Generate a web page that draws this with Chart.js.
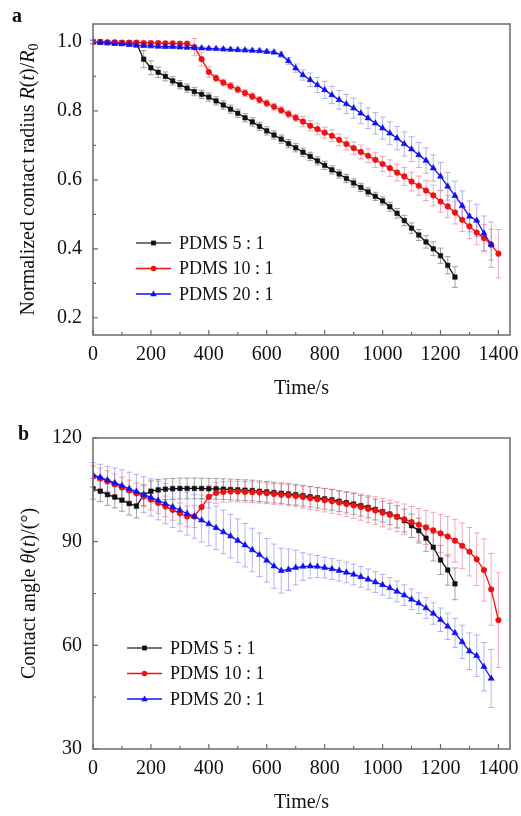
<!DOCTYPE html>
<html>
<head>
<meta charset="utf-8">
<script src="https://cdn.jsdelivr.net/npm/chart.js@4.4.1/dist/chart.umd.min.js"></script>
<style>
body { margin: 0; background: #fff; }
canvas { display: block; }
</style>
</head>
<body>
<canvas id="chartA" width="521" height="408"></canvas>
<canvas id="chartB" width="521" height="408"></canvas>
<script>
// time axis, one reading every 25 s
var times = [0, 25, 50, 75, 100, 125, 150, 175, 200, 225, 250, 275, 300, 325, 350, 375, 400,
	425, 450, 475, 500, 525, 550, 575, 600, 625, 650, 675, 700, 725, 750, 775, 800,
	825, 850, 875, 900, 925, 950, 975, 1000, 1025, 1050, 1075, 1100, 1125, 1150, 1175, 1200,
	1225, 1250, 1275, 1300, 1325, 1350, 1375, 1400];

var labels = ["PDMS 5 : 1", "PDMS 10 : 1", "PDMS 20 : 1"];

var xTicks = [0, 200, 400, 600, 800, 1000, 1200, 1400];
var xMinor = [100, 300, 500, 700, 900, 1100, 1300];
var yTicksA = [0.2, 0.4, 0.6, 0.8, 1.0];
var yMinorA = [0.3, 0.5, 0.7, 0.9];
var yTicksB = [30, 60, 90, 120];
var yMinorB = [45, 75, 105];

// (a) normalized contact radius
var radius5 = [1.0, 1.0, 0.998, 0.998, 0.997, 0.997, 0.996,
	0.95, 0.925, 0.912, 0.90, 0.887, 0.876, 0.866, 0.856, 0.848, 0.84,
	0.829, 0.817, 0.805, 0.793, 0.78, 0.768, 0.755, 0.742,
	0.73, 0.718, 0.705, 0.693, 0.68, 0.668, 0.655, 0.642,
	0.629, 0.617, 0.604, 0.591, 0.578, 0.565, 0.552, 0.539,
	0.522, 0.503, 0.482, 0.46, 0.44, 0.42, 0.40, 0.38, 0.352, 0.318];
var radius5Err = [0.005, 0.005, 0.005, 0.005, 0.005, 0.005, 0.006,
	0.025, 0.02, 0.015, 0.013, 0.012, 0.012, 0.012, 0.012, 0.012, 0.012,
	0.012, 0.012, 0.012, 0.012, 0.012, 0.012, 0.012, 0.012,
	0.012, 0.012, 0.012, 0.012, 0.012, 0.012, 0.012, 0.012,
	0.012, 0.012, 0.012, 0.012, 0.012, 0.012, 0.012, 0.012,
	0.013, 0.014, 0.015, 0.015, 0.016, 0.018, 0.02, 0.022, 0.025, 0.03];

var radius10 = [1.0, 1.0, 0.999, 0.999, 0.998, 0.998, 0.998, 0.997, 0.997, 0.997, 0.996, 0.996, 0.995, 0.995,
	0.985, 0.95, 0.913,
	0.895, 0.882, 0.872, 0.862, 0.852, 0.842, 0.832, 0.822, 0.812, 0.802, 0.791, 0.78,
	0.769, 0.757, 0.747, 0.737, 0.728, 0.716, 0.704, 0.692, 0.681, 0.670, 0.658, 0.646,
	0.634, 0.621, 0.610, 0.595, 0.583, 0.569, 0.555, 0.537, 0.523, 0.505, 0.484, 0.465, 0.447, 0.431, 0.412, 0.386];
var radius10Err = [0.005, 0.005, 0.005, 0.005, 0.005, 0.005, 0.005, 0.005, 0.005, 0.005, 0.005, 0.005, 0.005, 0.005,
	0.025, 0.02, 0.015,
	0.01, 0.01, 0.01, 0.01, 0.01, 0.01, 0.01, 0.01, 0.01, 0.01, 0.01, 0.01,
	0.015, 0.015, 0.016, 0.016, 0.017, 0.017, 0.018, 0.018, 0.02, 0.02, 0.022, 0.022,
	0.024, 0.024, 0.026, 0.027, 0.028, 0.029, 0.03, 0.031, 0.032, 0.033, 0.034, 0.035, 0.035, 0.04, 0.045, 0.07];

var radius20 = [1.0, 0.998, 0.997, 0.995, 0.994, 0.992, 0.99, 0.989, 0.988, 0.987, 0.986, 0.986, 0.985,
	0.984, 0.983, 0.982, 0.981, 0.98, 0.979, 0.978, 0.977, 0.976, 0.975, 0.974, 0.972, 0.97,
	0.963, 0.945, 0.924,
	0.904, 0.890, 0.875, 0.861, 0.846, 0.832, 0.820, 0.808, 0.793, 0.779, 0.764, 0.750, 0.735, 0.721,
	0.704, 0.689, 0.672, 0.656, 0.634, 0.610, 0.581, 0.554, 0.525, 0.494, 0.482, 0.445, 0.412];
var radius20Err = [0.005, 0.005, 0.005, 0.005, 0.005, 0.005, 0.005, 0.005, 0.005, 0.005, 0.005, 0.005, 0.005,
	0.005, 0.005, 0.005, 0.005, 0.005, 0.005, 0.005, 0.005, 0.005, 0.005, 0.005, 0.005, 0.006,
	0.008, 0.01, 0.012,
	0.015, 0.02, 0.022, 0.025, 0.025, 0.027, 0.028, 0.029, 0.03, 0.03, 0.031, 0.032, 0.033, 0.034,
	0.035, 0.036, 0.036, 0.037, 0.038, 0.04, 0.04, 0.042, 0.043, 0.045, 0.047, 0.05, 0.066];

// (b) contact angle, degrees
var angle5 = [105.3, 104.6, 103.6, 102.9, 102.0, 101.0, 100.3,
	103.5, 104.6, 105.0, 105.2, 105.3, 105.4, 105.4, 105.4, 105.4, 105.3,
	105.3, 105.2, 105.1, 105.0, 104.9, 104.8, 104.6, 104.4,
	104.2, 104.0, 103.8, 103.6, 103.3, 103.0, 102.7, 102.4,
	102.1, 101.7, 101.3, 100.9, 100.4, 99.9, 99.3, 98.7,
	98.0, 97.2, 96.1, 94.6, 93.2, 91.0, 88.4, 84.7, 81.8, 77.8];
var angle5Err = [3.0, 3.0, 3.1, 3.1, 3.2, 3.3, 3.4,
	3.0, 3.0, 3.0, 3.0, 3.0, 3.0, 3.0, 3.0, 3.0, 3.0,
	3.0, 3.0, 3.0, 3.0, 3.0, 3.0, 3.0, 3.0,
	3.0, 3.0, 3.0, 3.0, 3.0, 3.0, 3.0, 3.0,
	3.0, 3.0, 3.0, 3.0, 3.0, 3.0, 3.0, 3.0,
	3.1, 3.2, 3.3, 3.4, 3.6, 3.8, 4.0, 4.2, 4.4, 4.6];

var angle10 = [108.9, 108.3, 107.5, 106.6, 105.7, 104.8, 104.0, 103.1, 102.2, 101.2, 100.2, 99.2, 98.2, 97.3, 97.3,
	100.0, 103.0,
	104.1, 104.4, 104.5, 104.5, 104.4, 104.3, 104.2, 104.0, 103.8, 103.6, 103.4, 103.2,
	102.9, 102.6, 102.3, 102.0, 101.7, 101.3, 100.9, 100.5, 100.0, 99.5, 99.0, 98.4,
	97.8, 97.2, 96.5, 95.7, 94.9, 94.1, 93.3, 92.4, 91.5, 90.3, 88.8, 87.1, 84.9, 81.8, 76.2, 67.3];
var angle10Err = [3.0, 3.0, 3.0, 3.0, 3.0, 3.0, 3.0, 3.0, 3.0, 3.0, 3.0, 3.0, 3.0, 3.0, 3.2,
	3.5, 3.3,
	3.0, 3.0, 3.0, 3.0, 3.0, 3.0, 3.0, 3.0, 3.0, 3.0, 3.0, 3.0,
	3.2, 3.3, 3.3, 3.4, 3.5, 3.5, 3.6, 3.7, 3.8, 3.9, 4.0, 4.1,
	4.2, 4.3, 4.4, 4.5, 4.7, 4.9, 5.2, 5.5, 5.8, 6.2, 6.6, 7.0, 7.6, 9.0, 10.4, 13.7];

var angle20 = [109.3, 108.6, 107.8, 107.0, 106.2, 105.3, 104.5, 103.6, 102.8, 101.9, 101.0, 100.1, 99.1,
	98.1, 97.3, 96.2, 95.1, 94.0, 92.8, 91.6, 90.3, 89.0, 87.6, 86.2, 84.6,
	82.9, 81.6, 81.9, 82.5, 82.8, 82.9, 82.8, 82.5, 82.1, 81.6, 81.1, 80.5, 79.8, 79.1, 78.3, 77.5,
	76.6, 75.6, 74.5, 73.3, 72.2, 70.8, 69.2, 67.4, 65.5, 63.6, 61.0, 58.3, 57.0, 53.8, 50.4];
var angle20Err = [3.6, 3.8, 4.0, 4.3, 4.6, 4.8, 5.0, 5.2, 5.4, 5.6, 5.8, 6.0, 6.1,
	6.2, 6.3, 6.3, 6.3, 6.3, 6.3, 6.3, 6.3, 6.3, 6.3, 6.3, 6.3,
	6.4, 6.5, 6.0, 5.0, 4.0, 3.5, 3.2, 3.0, 3.0, 3.0, 3.0, 3.0, 3.0, 3.0, 3.0, 3.0,
	3.0, 3.0, 3.0, 3.0, 3.0, 3.0, 3.1, 3.4, 3.8, 4.2, 4.8, 5.3, 6.0, 7.0, 8.4];

const SERIF = '"Liberation Serif", "Times New Roman", serif';
const COLORS = ["#111111", "#ee1111", "#1010f0"];
const ERR_COLORS = ["rgba(90, 90, 90, 0.55)", "rgba(235, 100, 125, 0.55)", "rgba(110, 110, 240, 0.5)"];
const MARKERS = ["rect", "circle", "triangle"];
const RADII = [3.2, 2.8, 3.6];
const FRAME = "#6a6a6a";

function drawMarker(ctx, style, x, y, r) {
	ctx.beginPath();
	if (style === "rect") {
		var s = r * 0.75;
		ctx.rect(x - s, y - s, 2 * s, 2 * s);
	} else if (style === "circle") {
		ctx.arc(x, y, r, 0, Math.PI * 2);
	} else {
		ctx.moveTo(x, y - r);
		ctx.lineTo(x + r * 0.9, y + r * 0.6);
		ctx.lineTo(x - r * 0.9, y + r * 0.6);
		ctx.closePath();
	}
	ctx.fill();
}

// text made of plain / italic / subscript pieces, centred on 0,0
function drawRich(ctx, parts, size) {
	var fontOf = (p) => (p[1] === "i" ? "italic " : "") + (p[1] === "sub" ? size * 0.7 : size) + "px " + SERIF;
	var total = 0;
	parts.forEach((p) => {
		ctx.font = fontOf(p);
		total += ctx.measureText(p[0]).width;
	});
	var x = -total / 2;
	parts.forEach((p) => {
		ctx.font = fontOf(p);
		ctx.fillText(p[0], x, p[1] === "sub" ? size * 0.28 : 0);
		x += ctx.measureText(p[0]).width;
	});
}

const errorBars = {
	id: "errorBars",
	beforeDatasetsDraw(chart) {
		var ctx = chart.ctx;
		var xs = chart.scales.x, ys = chart.scales.y;
		ctx.save();
		ctx.lineWidth = 1;
		chart.data.datasets.forEach((ds) => {
			ctx.strokeStyle = ds.errColor;
			ds.data.forEach((p, i) => {
				var e = ds.errors[i];
				var px = xs.getPixelForValue(p.x);
				var top = ys.getPixelForValue(p.y + e);
				var bot = ys.getPixelForValue(p.y - e);
				ctx.beginPath();
				ctx.moveTo(px, top); ctx.lineTo(px, bot);
				ctx.moveTo(px - 3, top); ctx.lineTo(px + 3, top);
				ctx.moveTo(px - 3, bot); ctx.lineTo(px + 3, bot);
				ctx.stroke();
			});
		});
		ctx.restore();
	},
};

// frame, inward ticks, axis titles, panel letter and legend
function decor(cfg) {
	return {
		id: "decor",
		afterDraw(chart) {
			var ctx = chart.ctx;
			var a = chart.chartArea;
			var xs = chart.scales.x, ys = chart.scales.y;
			ctx.save();
			ctx.strokeStyle = FRAME;
			ctx.lineWidth = 1.5;
			ctx.strokeRect(a.left, a.top, a.right - a.left, a.bottom - a.top);

			ctx.lineWidth = 1.2;
			ctx.beginPath();
			xTicks.forEach((v) => { var p = xs.getPixelForValue(v); ctx.moveTo(p, a.bottom); ctx.lineTo(p, a.bottom - 5); });
			xMinor.forEach((v) => { var p = xs.getPixelForValue(v); ctx.moveTo(p, a.bottom); ctx.lineTo(p, a.bottom - 3); });
			cfg.yTicks.forEach((v) => { var p = ys.getPixelForValue(v); ctx.moveTo(a.left, p); ctx.lineTo(a.left + 5, p); });
			cfg.yMinor.forEach((v) => { var p = ys.getPixelForValue(v); ctx.moveTo(a.left, p); ctx.lineTo(a.left + 3, p); });
			ctx.stroke();

			ctx.fillStyle = "#111";
			ctx.textBaseline = "middle";
			ctx.textAlign = "left";

			// x title
			ctx.save();
			ctx.translate((a.left + a.right) / 2, cfg.xTitleY);
			drawRich(ctx, [["Time/s", ""]], 20);
			ctx.restore();

			// y title
			ctx.save();
			ctx.translate(cfg.yTitleX, (a.top + a.bottom) / 2);
			ctx.rotate(-Math.PI / 2);
			drawRich(ctx, cfg.yTitle, 20);
			ctx.restore();

			// panel letter
			ctx.font = "bold 20px " + SERIF;
			ctx.textBaseline = "alphabetic";
			ctx.fillText(cfg.letter, cfg.letterX, cfg.letterY);

			// legend
			ctx.textBaseline = "middle";
			ctx.font = "18px " + SERIF;
			chart.data.datasets.forEach((ds, i) => {
				var y = cfg.legY + i * cfg.legDy;
				ctx.strokeStyle = i === 0 ? "#444" : ds.borderColor;
				ctx.lineWidth = 1.4;
				ctx.beginPath();
				ctx.moveTo(cfg.legX, y);
				ctx.lineTo(cfg.legX + 35, y);
				ctx.stroke();
				ctx.fillStyle = ds.borderColor;
				drawMarker(ctx, MARKERS[i], cfg.legX + 17.5, y, RADII[i]);
				ctx.fillStyle = "#111";
				ctx.fillText(ds.label, cfg.legX + 43, y + 1);
			});
			ctx.restore();
		},
	};
}

function makeChart(id, cfg) {
	var datasets = cfg.series.map((s, i) => ({
		label: labels[i],
		data: s.values.map((v, k) => ({ x: times[k], y: v })),
		errors: s.errors,
		errColor: ERR_COLORS[i],
		borderColor: COLORS[i],
		backgroundColor: COLORS[i],
		borderWidth: 1.3,
		pointStyle: MARKERS[i],
		pointRadius: RADII[i],
		pointBorderWidth: 0.5,
		tension: 0,
		order: 3 - i,
	}));
	var tickFont = { family: SERIF, size: 20 };

	return new Chart(document.getElementById(id), {
		type: "line",
		data: { datasets: datasets },
		options: {
			responsive: false,
			animation: false,
			devicePixelRatio: 1,
			layout: { padding: { top: cfg.plotTop, right: 11, left: 0, bottom: 0 } },
			plugins: { legend: { display: false }, tooltip: { enabled: false } },
			scales: {
				x: {
					type: "linear",
					min: 0,
					max: 1440,
					afterBuildTicks: (s) => { s.ticks = xTicks.map((v) => ({ value: v })); },
					afterFit: (s) => {
						s.height = 408 - cfg.plotBottom;
						// keep the label overhang from squeezing the plot
						s.paddingLeft = 0;
						s.paddingRight = 0;
					},
					grid: { display: false, drawTicks: false },
					border: { display: false },
					ticks: { padding: 8, font: tickFont, color: "#111", maxRotation: 0, autoSkip: false, callback: (v) => String(v) },
				},
				y: {
					min: cfg.yMin,
					max: cfg.yMax,
					afterBuildTicks: (s) => { s.ticks = cfg.yTicks.map((v) => ({ value: v })); },
					afterFit: (s) => {
						s.width = 93;
						s.paddingTop = 0;
						s.paddingBottom = 0;
					},
					grid: { display: false, drawTicks: false },
					border: { display: false },
					ticks: { padding: 11, font: tickFont, color: "#111", callback: cfg.yFormat },
				},
			},
		},
		plugins: [errorBars, decor(cfg)],
	});
}

makeChart("chartA", {
	series: [
		{ values: radius5, errors: radius5Err },
		{ values: radius10, errors: radius10Err },
		{ values: radius20, errors: radius20Err },
	],
	yMin: 0.15, yMax: 1.052,
	yTicks: yTicksA, yMinor: yMinorA,
	yFormat: (v) => v.toFixed(1),
	plotTop: 24, plotBottom: 335,
	xTitleY: 389, yTitleX: 29,
	yTitle: [["Normalized contact radius ", ""], ["R", "i"], ["(", ""], ["t", "i"], [")/", ""], ["R", "i"], ["0", "sub"]],
	letter: "a", letterX: 12, letterY: 22,
	legX: 136, legY: 243, legDy: 25.5,
});

makeChart("chartB", {
	series: [
		{ values: angle5, errors: angle5Err },
		{ values: angle10, errors: angle10Err },
		{ values: angle20, errors: angle20Err },
	],
	yMin: 30, yMax: 120,
	yTicks: yTicksB, yMinor: yMinorB,
	yFormat: (v) => String(v),
	plotTop: 30, plotBottom: 341,
	xTitleY: 395, yTitleX: 30,
	yTitle: [["Contact angle ", ""], ["θ", "i"], ["(", ""], ["t", "i"], [")/(°)", ""]],
	letter: "b", letterX: 18, letterY: 32,
	legX: 127, legY: 240, legDy: 25.5,
});
</script>
</body>
</html>
